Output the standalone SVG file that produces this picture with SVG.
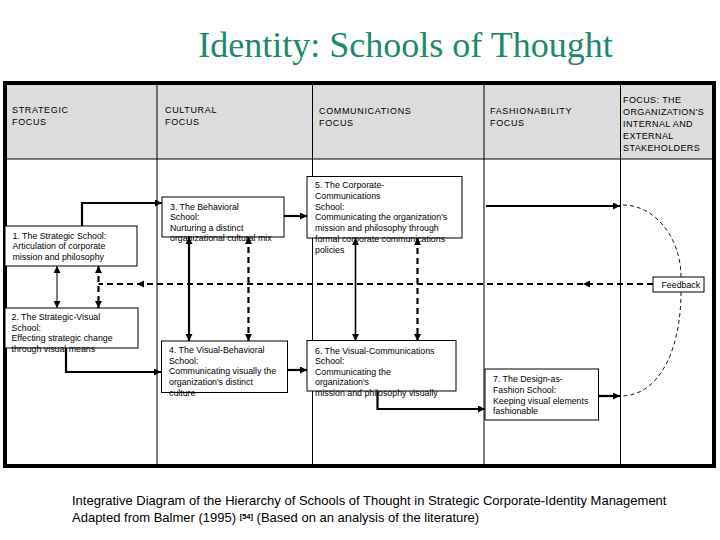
<svg xmlns="http://www.w3.org/2000/svg" width="720" height="540" viewBox="0 0 720 540">
<style>
.hdr{font-family:"Liberation Sans",Arial,sans-serif;font-size:9px;letter-spacing:0.65px;fill:#000}
.bx{fill:#fff;stroke:#000;stroke-width:1}
.bt{font-family:"Liberation Sans",Arial,sans-serif;font-size:8.8px;fill:#000}
.div{stroke:#000;stroke-width:1}
.s2{stroke:#000;stroke-width:2.2;fill:none}
.s1{stroke:#000;stroke-width:1;fill:none}
.d2{stroke:#000;stroke-width:2.2;fill:none;stroke-dasharray:6 4}
.d1{stroke:#000;stroke-width:0.9;fill:none;stroke-dasharray:4 3}
.cap{font-family:"Liberation Sans",Arial,sans-serif;font-size:13px;fill:#000}
</style>
<defs>
<marker id="ah" viewBox="0 0 10 10" refX="10" refY="5" markerWidth="7" markerHeight="7" markerUnits="userSpaceOnUse" orient="auto-start-reverse">
<path d="M0,0 L10,5 L0,10 z" fill="#000"/>
</marker>
</defs>
<rect width="720" height="540" fill="#fff"/>
<text x="405.5" y="57" text-anchor="middle" font-family="'Liberation Serif','Times New Roman',serif" font-size="36" fill="#1a8a6c">Identity: Schools of Thought</text>

<g id="frame">
<rect x="5" y="83" width="709" height="76" fill="#dcdcdc"/>
<line class="div" x1="5" y1="159" x2="714" y2="159"/>
<line class="div" x1="157" y1="83" x2="157" y2="466"/>
<line class="div" x1="312.5" y1="83" x2="312.5" y2="466"/>
<line class="div" x1="484" y1="83" x2="484" y2="466"/>
<line class="div" x1="620.5" y1="83" x2="620.5" y2="466"/>
<rect x="5" y="83" width="709" height="383" fill="none" stroke="#000" stroke-width="4"/>
</g>

<g id="headers">
<text class="hdr" x="12" y="113">STRATEGIC<tspan x="12" y="125">FOCUS</tspan></text>
<text class="hdr" x="165" y="113">CULTURAL<tspan x="165" y="125">FOCUS</tspan></text>
<text class="hdr" x="319" y="114">COMMUNICATIONS<tspan x="319" y="126">FOCUS</tspan></text>
<text class="hdr" x="490" y="114">FASHIONABILITY<tspan x="490" y="126">FOCUS</tspan></text>
<text class="hdr" x="623" y="103" style="letter-spacing:0.4px">FOCUS: THE<tspan x="623" y="115">ORGANIZATION'S</tspan><tspan x="623" y="127">INTERNAL AND</tspan><tspan x="623" y="139">EXTERNAL</tspan><tspan x="623" y="151">STAKEHOLDERS</tspan></text>
</g>

<g id="connectors">
<path class="s2" d="M82,226 V203 H162" marker-end="url(#ah)"/>
<path class="s2" d="M284,216 H307" marker-end="url(#ah)"/>
<path class="s2" d="M486,206 H620" marker-end="url(#ah)"/>
<path class="s1" d="M57,266 V308" marker-start="url(#ah)" marker-end="url(#ah)"/>
<path class="d2" d="M98.5,266 V308" marker-start="url(#ah)" marker-end="url(#ah)"/>
<path class="s2" d="M189,237 V341" marker-start="url(#ah)" marker-end="url(#ah)"/>
<path class="d2" d="M248.5,237 V341" marker-start="url(#ah)" marker-end="url(#ah)"/>
<path class="s1" d="M355.5,238 V341" style="stroke-width:1.6" marker-start="url(#ah)" marker-end="url(#ah)"/>
<path class="d2" d="M417.5,238 V341" marker-start="url(#ah)" marker-end="url(#ah)"/>
<path class="d2" d="M653,284 H98.5"/>
<polygon points="583,284 590,280.5 590,287.5" fill="#000"/>
<polygon points="137,284 144,280.5 144,287.5" fill="#000"/>
<path class="s2" d="M66,348 V372 H161" marker-end="url(#ah)"/>
<path class="s2" d="M287,370 H307" marker-end="url(#ah)"/>
<path class="s2" d="M377.5,391 V409 H485" marker-end="url(#ah)"/>
<path class="s2" d="M598.5,396 H620" marker-end="url(#ah)"/>
<path class="d1" d="M623,205 C655,205 681,238 681,277"/>
<path class="d1" d="M681,292 C681,345 662,394 623,396"/>
</g>

<g id="n1">
<rect class="bx" x="5" y="226" width="132" height="40"/>
<text class="bt" x="12.5" y="238.5">1. The Strategic School:<tspan x="12.5" y="249">Articulation of corporate</tspan><tspan x="12.5" y="260">mission and philosophy</tspan></text>
</g>
<g id="n3">
<rect class="bx" x="162" y="197" width="122" height="40"/>
<text class="bt" x="170" y="209.5">3. The Behavioral<tspan x="170" y="220">School:</tspan><tspan x="170" y="230.5">Nurturing a distinct</tspan><tspan x="170" y="241">organizational cultural mix</tspan></text>
</g>
<g id="n5">
<rect class="bx" x="307" y="176.5" width="155" height="61.5"/>
<text class="bt" x="315" y="187.5">5. The Corporate-<tspan x="315" y="198.5">Communications</tspan><tspan x="315" y="209.5">School:</tspan><tspan x="315" y="220">Communicating the organization's</tspan><tspan x="315" y="231">mission and philosophy through</tspan><tspan x="315" y="241.5">formal corporate communications</tspan><tspan x="315" y="252.5">policies</tspan></text>
</g>
<g id="n2">
<rect class="bx" x="5" y="308" width="133" height="40"/>
<text class="bt" x="11.5" y="320">2. The Strategic-Visual<tspan x="11.5" y="330.5">School:</tspan><tspan x="11.5" y="341">Effecting strategic change</tspan><tspan x="11.5" y="351.5">through visual means</tspan></text>
</g>
<g id="n4">
<rect class="bx" x="161.5" y="341" width="126" height="51.5"/>
<text class="bt" x="169" y="352.5">4. The Visual-Behavioral<tspan x="169" y="363.5">School:</tspan><tspan x="169" y="374">Communicating visually the</tspan><tspan x="169" y="385">organization's distinct</tspan><tspan x="169" y="396">culture</tspan></text>
</g>
<g id="n6">
<rect class="bx" x="307" y="340.5" width="149" height="50.5"/>
<text class="bt" x="315" y="353.5">6. The Visual-Communications<tspan x="315" y="364">School:</tspan><tspan x="315" y="374.5">Communicating the</tspan><tspan x="315" y="385">organization's</tspan><tspan x="315" y="395.5">mission and philosophy visually</tspan></text>
</g>
<g id="n7">
<rect class="bx" x="485" y="369" width="113.5" height="51"/>
<text class="bt" x="493" y="381.5">7. The Design-as-<tspan x="493" y="392.5">Fashion School:</tspan><tspan x="493" y="403.5">Keeping visual elements</tspan><tspan x="493" y="414">fashionable</tspan></text>
</g>
<g id="feedback">
<rect class="bx" x="653" y="277" width="51" height="15"/>
<text class="bt" x="661.5" y="287.5">Feedback</text>
</g>

<g id="caption">
<text class="cap" x="72" y="505">Integrative Diagram of the Hierarchy of Schools of Thought in Strategic Corporate-Identity Management</text>
<text class="cap" x="72" y="522">Adapted from Balmer (1995) <tspan font-size="7.5" font-weight="bold" dy="-3">[54]</tspan><tspan dy="3"> (Based on an analysis of the literature)</tspan></text>
</g>
</svg>
